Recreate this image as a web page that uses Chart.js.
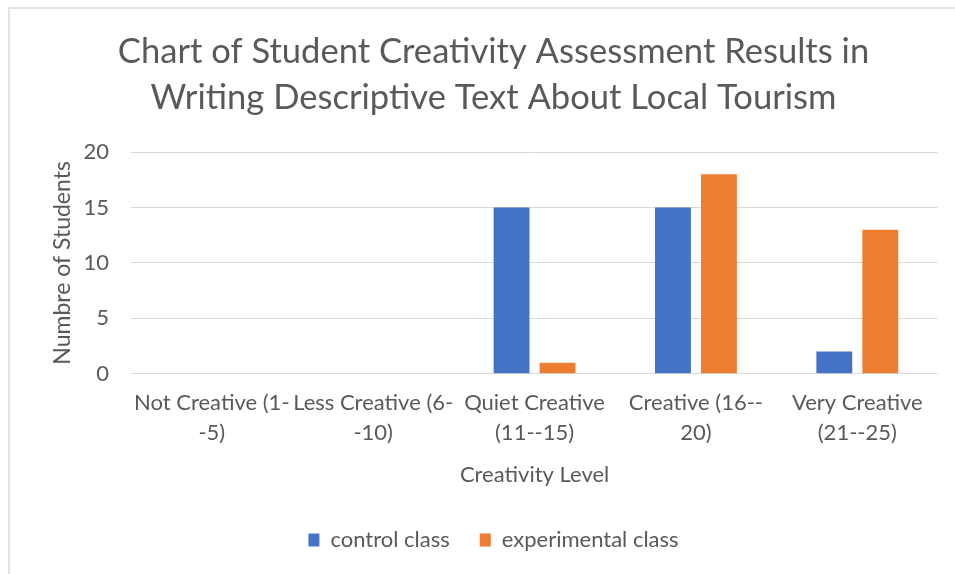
<!DOCTYPE html>
<html>
<head>
<meta charset="utf-8">
<script src="https://cdn.jsdelivr.net/npm/chart.js@4"></script>
<style>
  html, body { margin: 0; padding: 0; background: #fff; }
  #wrap { position: relative; width: 955px; height: 574px; }
  #frame { position: absolute; left: 8px; top: 7px; right: 0; bottom: 0;
           border-top: 2px solid #e2e2e2; border-left: 2px solid #e2e2e2; }
  canvas { position: absolute; left: 0; top: 0; }
</style>
</head>
<body>
<div id="wrap">
  <div id="frame"></div>
  <canvas id="chart" width="955" height="574"></canvas>
</div>
<script>
var categories = [
  ['Not Creative (1-', '-5)'],
  ['Less Creative (6-', '-10)'],
  ['Quiet Creative', '(11--15)'],
  ['Creative (16--', '20)'],
  ['Very Creative', '(21--25)']
];
var controlClass = [0, 0, 15, 15, 2];
var experimentalClass = [0, 0, 1, 18, 13];
var yTicks = [0, 5, 10, 15, 20];

var textColor = '#595959';
var fontFamily = 'Lato, "Open Sans", sans-serif';

var ctx = document.getElementById('chart').getContext('2d');
var chart = new Chart(ctx, {
  type: 'bar',
  data: {
    labels: categories,
    datasets: [{
      label: 'control class',
      data: controlClass,
      backgroundColor: '#4472C4',
      categoryPercentage: 0.57,
      barPercentage: 0.78
    }, {
      label: 'experimental class',
      data: experimentalClass,
      backgroundColor: '#ED7D31',
      categoryPercentage: 0.57,
      barPercentage: 0.78
    }]
  },
  options: {
    responsive: false,
    animation: false,
    layout: { padding: { top: 29, left: 49, right: 17, bottom: 13 } },
    font: { family: fontFamily },
    plugins: {
      title: {
        display: true,
        text: ['Chart of Student Creativity Assessment Results in',
               'Writing Descriptive Text About Local Tourism'],
        color: textColor,
        font: { family: fontFamily, size: 34.6, weight: 'normal', lineHeight: 1.33 },
        padding: { top: 0, bottom: 31 }
      },
      legend: {
        position: 'bottom',
        labels: {
          color: textColor,
          font: { family: fontFamily, size: 22 },
          boxWidth: 11,
          boxHeight: 13,
          padding: 30
        }
      },
      tooltip: { enabled: false }
    },
    scales: {
      x: {
        grid: { display: false, drawTicks: false },
        border: { display: false },
        ticks: {
          color: textColor,
          font: { family: fontFamily, size: 22, lineHeight: 1.36 },
          maxRotation: 0,
          autoSkip: false,
          padding: 14
        },
        title: {
          display: true,
          text: 'Creativity Level',
          color: textColor,
          font: { family: fontFamily, size: 22 },
          padding: { top: 0, bottom: 11 }
        }
      },
      y: {
        min: 0,
        max: 20,
        afterBuildTicks: function(axis) {
          axis.ticks = yTicks.map(function(v) { return { value: v }; });
        },
        grid: { color: '#d9d9d9', lineWidth: 1, drawTicks: false },
        border: { display: false },
        ticks: {
          color: textColor,
          font: { family: fontFamily, size: 22 },
          padding: 22
        },
        title: {
          display: true,
          text: 'Numbre of Students',
          color: textColor,
          font: { family: fontFamily, size: 23 },
          padding: { top: 0, bottom: -15 }
        }
      }
    }
  }
});
</script>
</body>
</html>
